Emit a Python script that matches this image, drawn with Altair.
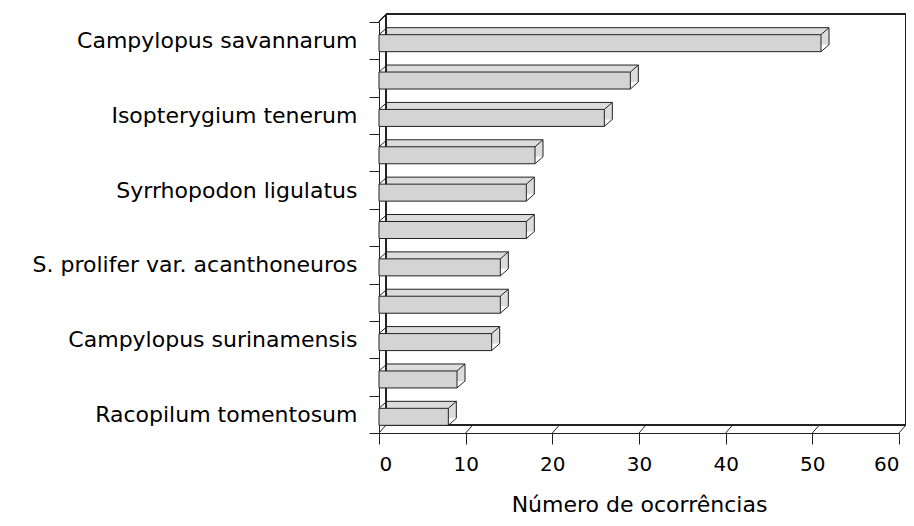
import json
import altair as alt
import pandas as pd

# ---- data ----
species = [
    "Campylopus savannarum", "", "Isopterygium tenerum", "",
    "Syrrhopodon ligulatus", "", "S. prolifer var. acanthoneuros", "",
    "Campylopus surinamensis", "", "Racopilum tomentosum",
]
occurrences = [51, 29, 26, 18, 17, 17, 14, 14, 13, 9, 8]
x_ticks = [0, 10, 20, 30, 40, 50, 60]
x_title = "Número de ocorrências"

df = pd.DataFrame({"rank": list(range(len(species))), "n": occurrences})
tick_df = pd.DataFrame({"t": x_ticks})

W, H = 520, 411
DX, DY = 8, 7          # bar depth
PDX, PDY = 7, 8        # wall depth
BH = 17                # bar front height
OFF = 2.5              # bar offset inside band
FILL = "#d4d4d4"
TOP = "#dcdcdc"
LINE = "#222222"
FONT = "DejaVu Sans"

label_expr = json.dumps(species) + "[datum.value]"

xs = alt.Scale(domain=[0, 60], nice=False, zero=True)
ys = alt.Scale(paddingInner=0, paddingOuter=0)

base = alt.Chart(df)

y_enc = alt.Y(
    "rank:O", scale=ys, sort=None,
    axis=alt.Axis(
        title=None, labelExpr=label_expr, tickBand="extent", tickSize=10,
        labelPadding=12, labelFontSize=22, labelFont=FONT, labelColor="black",
        domainColor=LINE, tickColor=LINE, labelLimit=400,
    ),
)
x_enc = alt.X(
    "n:Q", scale=xs,
    axis=alt.Axis(
        values=x_ticks, title=x_title, tickSize=11, labelPadding=10,
        labelFontSize=20, labelFont=FONT, labelColor="black",
        titleFontSize=22, titleFont=FONT, titleFontWeight="normal",
        titleColor="black", titlePadding=20, domainColor=LINE,
        tickColor=LINE, grid=False,
    ),
)

# wall / floor frame (behind bars)
wall_left = alt.Chart(df).mark_rule(color=LINE, xOffset=PDX).encode(
    x=alt.datum(0, scale=xs), y=alt.value(-PDY), y2=alt.value(H - PDY))
wall_top = alt.Chart(df).mark_rule(color=LINE, xOffset=PDX, x2Offset=PDX).encode(
    x=alt.datum(0), x2=alt.datum(60), y=alt.value(-PDY))
wall_right = alt.Chart(df).mark_rule(color=LINE, xOffset=PDX).encode(
    x=alt.datum(60), y=alt.value(-PDY), y2=alt.value(H - PDY))
floor_back = alt.Chart(df).mark_rule(color=LINE, xOffset=PDX, x2Offset=PDX).encode(
    x=alt.datum(0), x2=alt.datum(60), y=alt.value(H - PDY))
floor_diag = alt.Chart(tick_df).mark_rule(color=LINE, x2Offset=PDX).encode(
    x="t:Q", x2="t", y=alt.value(H), y2=alt.value(H - PDY))
corner_diag = alt.Chart(df).mark_rule(color=LINE, x2Offset=PDX).encode(
    x=alt.datum(0), x2=alt.datum(0), y=alt.value(0), y2=alt.value(-PDY))

# bars
back_fill = base.mark_bar(size=BH, xOffset=DX, x2Offset=DX, yOffset=OFF - DY,
                          fill=TOP, strokeWidth=0).encode(x=x_enc, y=y_enc)
front = base.mark_bar(size=BH, yOffset=OFF, fill=FILL, stroke=LINE,
                      strokeWidth=1).encode(x="n:Q", y="rank:O")
top_edge = base.mark_rule(color=LINE, xOffset=DX, x2Offset=DX,
                          yOffset=OFF - BH / 2 - DY).encode(
    x="n:Q", x2=alt.datum(0), y="rank:O")
right_edge = base.mark_tick(orient="vertical", size=BH, thickness=1, color=LINE,
                            xOffset=DX, yOffset=OFF - DY, opacity=1).encode(
    x="n:Q", y="rank:O")
diag_tr = base.mark_rule(color=LINE, x2Offset=DX, yOffset=OFF - BH / 2,
                         y2Offset=OFF - BH / 2 - DY).encode(
    x="n:Q", x2="n", y="rank:O", y2="rank")
diag_br = base.mark_rule(color=LINE, x2Offset=DX, yOffset=OFF + BH / 2,
                         y2Offset=OFF + BH / 2 - DY).encode(
    x="n:Q", x2="n", y="rank:O", y2="rank")
diag_tl = base.mark_rule(color=LINE, x2Offset=DX, yOffset=OFF - BH / 2,
                         y2Offset=OFF - BH / 2 - DY).encode(
    x=alt.datum(0), x2=alt.datum(0), y="rank:O", y2="rank")

chart = alt.layer(
    back_fill, wall_left, wall_top, wall_right, floor_back, floor_diag,
    corner_diag, front, top_edge, right_edge, diag_tr, diag_br, diag_tl,
).properties(
    width=W, height=H,
    autosize=alt.AutoSizeParams(type="none"),
    padding={"left": 371, "top": 14, "right": 7, "bottom": 85},
    background="white",
).configure_view(stroke=None)

chart.save("out.html", embed_options={"renderer": "svg", "actions": False})
